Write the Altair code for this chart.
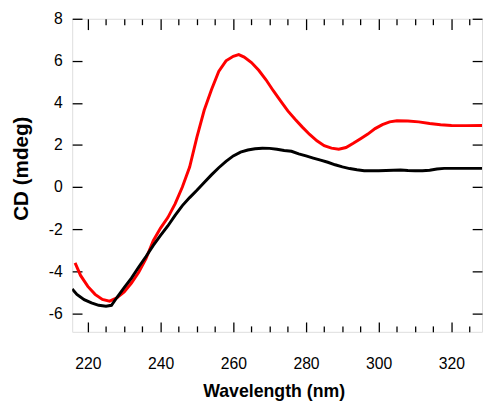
import altair as alt
import pandas as pd

# Red spectrum (wavelength nm, CD mdeg)
wl_red = [216.5, 218, 220, 222, 224, 226, 228, 230, 232, 234, 236, 238, 240, 242, 244,
          246, 248, 250, 252, 254, 256, 258, 260, 261.5, 263, 265, 267, 269, 271, 273,
          275, 277, 279, 281, 283, 285, 287, 289, 291, 293, 295, 297, 299, 301, 303,
          305, 308, 311, 314, 317, 320, 324, 328.5]
cd_red = [-3.6, -4.2, -4.72, -5.1, -5.34, -5.42, -5.26, -4.98, -4.56, -4.05, -3.4, -2.55, -1.95, -1.45, -0.8,
          0.0, 0.95, 2.37, 3.65, 4.63, 5.5, 6.0, 6.22, 6.3, 6.18, 5.92, 5.55, 5.1, 4.58, 4.1,
          3.62, 3.22, 2.85, 2.5, 2.2, 1.97, 1.85, 1.8, 1.88, 2.08, 2.3, 2.52, 2.78, 2.97, 3.1,
          3.15, 3.14, 3.1, 3.02, 2.96, 2.93, 2.92, 2.93]

# Black spectrum
wl_black = [215.7, 217, 219, 221, 223, 225, 226.5, 228, 230, 232, 234, 236, 238, 240, 242,
            244, 246, 248, 250, 252, 254, 256, 258, 260, 262, 264, 266, 268, 270, 272,
            274, 276, 278, 280, 282, 284, 286, 288, 290, 292, 294, 296, 298, 300, 302,
            304, 306, 308, 310, 312, 314, 316, 318, 322, 328.5]
cd_black = [-4.85, -5.1, -5.35, -5.5, -5.62, -5.66, -5.62, -5.25, -4.78, -4.33, -3.8, -3.3, -2.77, -2.3, -1.85,
            -1.35, -0.88, -0.5, -0.15, 0.22, 0.58, 0.92, 1.22, 1.48, 1.66, 1.76, 1.82, 1.85, 1.84, 1.8,
            1.74, 1.7, 1.58, 1.48, 1.38, 1.28, 1.18, 1.06, 0.96, 0.88, 0.82, 0.78, 0.78, 0.78, 0.79,
            0.8, 0.81, 0.79, 0.78, 0.78, 0.8, 0.86, 0.89, 0.89, 0.89]

x_major = [220, 240, 260, 280, 300, 320]
x_minor = [225, 230, 235, 245, 250, 255, 265, 270, 275, 285, 290, 295, 305, 310, 315, 325]
y_major = [-6, -4, -2, 0, 2, 4, 6, 8]

df_red = pd.DataFrame({"wl": wl_red, "cd": cd_red})
df_black = pd.DataFrame({"wl": wl_black, "cd": cd_black})

FONT = "Liberation Sans"
xscale = alt.Scale(domain=[215.7, 328.4], nice=False, zero=False)
yscale = alt.Scale(domain=[-6.88, 8], nice=False, zero=False)

x_main = alt.X("wl:Q", scale=xscale, axis=alt.Axis(
    orient="bottom", values=x_major, ticks=False, tickSize=0, domain=False, grid=False,
    labelPadding=24, labelFontSize=16, labelFont=FONT, labelColor="black",
    labelExpr="'' + datum.value",
    title="Wavelength (nm)", titleFont=FONT, titleFontSize=18, titleFontWeight="bold",
    titleColor="black", titleX=205, titleY=66, titleBaseline="alphabetic", titleAlign="center"))
y_main = alt.Y("cd:Q", scale=yscale, axis=alt.Axis(
    orient="left", values=y_major, ticks=False, tickSize=0, domain=False, grid=False,
    labelPadding=10, labelFontSize=16, labelFont=FONT, labelColor="black",
    labelExpr="'' + datum.value",
    title="CD (mdeg)", titleFont=FONT, titleFontSize=21, titleFontWeight="bold",
    titleColor="black", titleX=-45, titleY=152, titleBaseline="alphabetic",
    titleAlign="center", titleAngle=270))

red = alt.Chart(df_red).mark_line(color="#ff0000", strokeWidth=3, clip=True).encode(x=x_main, y=y_main)
black = alt.Chart(df_black).mark_line(color="#000000", strokeWidth=3, clip=True).encode(
    x=alt.X("wl:Q", scale=xscale, axis=None), y=alt.Y("cd:Q", scale=yscale, axis=None))


def tick_axis(orient, values, size):
    return alt.Axis(orient=orient, values=values, offset=-size, tickSize=size, tickWidth=1.3,
                    tickColor="black", labels=False, domain=False, grid=False, title=None)


def tick_layer(xorient, xvals, xsize, yorient=None, ysize=10):
    yenc = alt.Y("cd:Q", scale=yscale,
                 axis=tick_axis(yorient, y_major, ysize) if yorient else None)
    return alt.Chart(df_black).mark_point(opacity=0).encode(
        x=alt.X("wl:Q", scale=xscale, axis=tick_axis(xorient, xvals, xsize)), y=yenc)


t1 = tick_layer("bottom", x_major, 10, "left", 10)
t2 = tick_layer("bottom", x_minor, 6, "right", 10)
t3 = tick_layer("top", x_major, 11)
t4 = tick_layer("top", x_minor, 6)

chart = alt.layer(red, black, t1, t2, t3, t4).resolve_axis(
    x="independent", y="independent"
).properties(
    width=417, height=318.5,
    autosize=alt.AutoSizeParams(type="none"),
    padding={"left": 65.3, "top": 7.5, "right": 1, "bottom": 71},
).configure_view(stroke="black", strokeWidth=1.5).configure(background="white")

chart.save("out.html", embed_options={"renderer": "svg", "actions": False})
